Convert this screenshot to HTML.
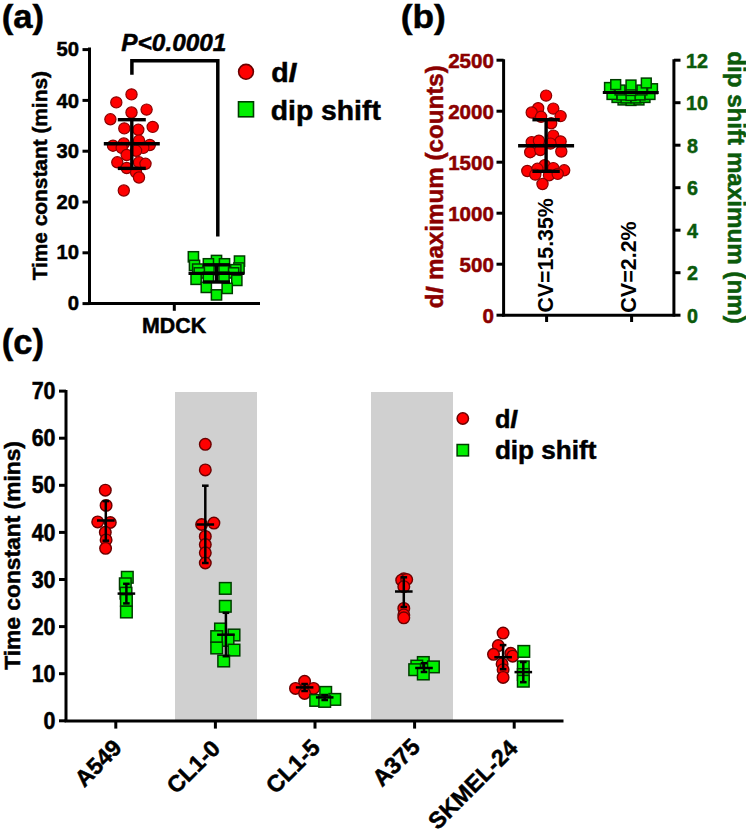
<!DOCTYPE html>
<html><head><meta charset="utf-8"><style>
html,body{margin:0;padding:0;background:#fff;overflow:hidden;}
svg{display:block;}
</style></head><body>
<svg width="746" height="831" viewBox="0 0 746 831">
<rect width="746" height="831" fill="#fff"/>
<line x1="89.50" y1="47.50" x2="89.50" y2="305.00" stroke="#000" stroke-width="3"/>
<line x1="82.50" y1="303.60" x2="89.50" y2="303.60" stroke="#000" stroke-width="3"/>
<line x1="82.50" y1="252.80" x2="89.50" y2="252.80" stroke="#000" stroke-width="3"/>
<line x1="82.50" y1="202.00" x2="89.50" y2="202.00" stroke="#000" stroke-width="3"/>
<line x1="82.50" y1="151.20" x2="89.50" y2="151.20" stroke="#000" stroke-width="3"/>
<line x1="82.50" y1="100.40" x2="89.50" y2="100.40" stroke="#000" stroke-width="3"/>
<line x1="82.50" y1="49.60" x2="89.50" y2="49.60" stroke="#000" stroke-width="3"/>
<line x1="88.00" y1="303.60" x2="260.00" y2="303.60" stroke="#000" stroke-width="3"/>
<line x1="174.30" y1="303.60" x2="174.30" y2="310.80" stroke="#000" stroke-width="3"/>
<circle cx="131.5" cy="94.4" r="5.6" fill="#ff0000" stroke="#8a0000" stroke-width="1.2"/>
<circle cx="116.3" cy="102.4" r="5.6" fill="#ff0000" stroke="#8a0000" stroke-width="1.2"/>
<circle cx="146.6" cy="109.6" r="5.6" fill="#ff0000" stroke="#8a0000" stroke-width="1.2"/>
<circle cx="131.5" cy="112.5" r="5.6" fill="#ff0000" stroke="#8a0000" stroke-width="1.2"/>
<circle cx="110.4" cy="119.3" r="5.6" fill="#ff0000" stroke="#8a0000" stroke-width="1.2"/>
<circle cx="152.7" cy="126.9" r="5.6" fill="#ff0000" stroke="#8a0000" stroke-width="1.2"/>
<circle cx="124.3" cy="128.4" r="5.6" fill="#ff0000" stroke="#8a0000" stroke-width="1.2"/>
<circle cx="138.3" cy="129.8" r="5.6" fill="#ff0000" stroke="#8a0000" stroke-width="1.2"/>
<circle cx="113" cy="145.7" r="5.6" fill="#ff0000" stroke="#8a0000" stroke-width="1.2"/>
<circle cx="123.8" cy="143.5" r="5.6" fill="#ff0000" stroke="#8a0000" stroke-width="1.2"/>
<circle cx="139" cy="140.6" r="5.6" fill="#ff0000" stroke="#8a0000" stroke-width="1.2"/>
<circle cx="149.8" cy="145" r="5.6" fill="#ff0000" stroke="#8a0000" stroke-width="1.2"/>
<circle cx="121.7" cy="147.9" r="5.6" fill="#ff0000" stroke="#8a0000" stroke-width="1.2"/>
<circle cx="143.3" cy="147.9" r="5.6" fill="#ff0000" stroke="#8a0000" stroke-width="1.2"/>
<circle cx="126.7" cy="155" r="5.6" fill="#ff0000" stroke="#8a0000" stroke-width="1.2"/>
<circle cx="136.1" cy="150.8" r="5.6" fill="#ff0000" stroke="#8a0000" stroke-width="1.2"/>
<circle cx="117.3" cy="162.3" r="5.6" fill="#ff0000" stroke="#8a0000" stroke-width="1.2"/>
<circle cx="139" cy="162.3" r="5.6" fill="#ff0000" stroke="#8a0000" stroke-width="1.2"/>
<circle cx="145.5" cy="163.8" r="5.6" fill="#ff0000" stroke="#8a0000" stroke-width="1.2"/>
<circle cx="126.7" cy="168" r="5.6" fill="#ff0000" stroke="#8a0000" stroke-width="1.2"/>
<circle cx="136.1" cy="172.4" r="5.6" fill="#ff0000" stroke="#8a0000" stroke-width="1.2"/>
<circle cx="139" cy="177.5" r="5.6" fill="#ff0000" stroke="#8a0000" stroke-width="1.2"/>
<circle cx="123.8" cy="190.5" r="5.6" fill="#ff0000" stroke="#8a0000" stroke-width="1.2"/>
<line x1="131.80" y1="119.70" x2="131.80" y2="168.40" stroke="#000" stroke-width="3.4"/>
<line x1="117.80" y1="119.70" x2="145.80" y2="119.70" stroke="#000" stroke-width="3.4"/>
<line x1="117.80" y1="168.40" x2="145.80" y2="168.40" stroke="#000" stroke-width="3.4"/>
<line x1="103.80" y1="143.70" x2="159.80" y2="143.70" stroke="#000" stroke-width="3.4"/>
<rect x="188.30" y="251.70" width="10.2" height="10.2" fill="#00f000" stroke="#003c00" stroke-width="1.5"/>
<rect x="234.40" y="256.00" width="10.2" height="10.2" fill="#00f000" stroke="#003c00" stroke-width="1.5"/>
<rect x="211.40" y="255.40" width="10.2" height="10.2" fill="#00f000" stroke="#003c00" stroke-width="1.5"/>
<rect x="203.30" y="258.70" width="10.2" height="10.2" fill="#00f000" stroke="#003c00" stroke-width="1.5"/>
<rect x="219.40" y="258.70" width="10.2" height="10.2" fill="#00f000" stroke="#003c00" stroke-width="1.5"/>
<rect x="189.40" y="260.30" width="10.2" height="10.2" fill="#00f000" stroke="#003c00" stroke-width="1.5"/>
<rect x="192.60" y="264.00" width="10.2" height="10.2" fill="#00f000" stroke="#003c00" stroke-width="1.5"/>
<rect x="233.90" y="262.90" width="10.2" height="10.2" fill="#00f000" stroke="#003c00" stroke-width="1.5"/>
<rect x="203.90" y="264.60" width="10.2" height="10.2" fill="#00f000" stroke="#003c00" stroke-width="1.5"/>
<rect x="218.90" y="265.10" width="10.2" height="10.2" fill="#00f000" stroke="#003c00" stroke-width="1.5"/>
<rect x="230.70" y="264.60" width="10.2" height="10.2" fill="#00f000" stroke="#003c00" stroke-width="1.5"/>
<rect x="194.20" y="267.80" width="10.2" height="10.2" fill="#00f000" stroke="#003c00" stroke-width="1.5"/>
<rect x="228.50" y="267.80" width="10.2" height="10.2" fill="#00f000" stroke="#003c00" stroke-width="1.5"/>
<rect x="191.00" y="274.20" width="10.2" height="10.2" fill="#00f000" stroke="#003c00" stroke-width="1.5"/>
<rect x="203.30" y="272.10" width="10.2" height="10.2" fill="#00f000" stroke="#003c00" stroke-width="1.5"/>
<rect x="218.90" y="272.10" width="10.2" height="10.2" fill="#00f000" stroke="#003c00" stroke-width="1.5"/>
<rect x="231.70" y="275.30" width="10.2" height="10.2" fill="#00f000" stroke="#003c00" stroke-width="1.5"/>
<rect x="201.20" y="282.30" width="10.2" height="10.2" fill="#00f000" stroke="#003c00" stroke-width="1.5"/>
<rect x="222.10" y="283.30" width="10.2" height="10.2" fill="#00f000" stroke="#003c00" stroke-width="1.5"/>
<rect x="211.40" y="289.80" width="10.2" height="10.2" fill="#00f000" stroke="#003c00" stroke-width="1.5"/>
<line x1="216.50" y1="264.80" x2="216.50" y2="282.00" stroke="#000" stroke-width="3.4"/>
<line x1="203.00" y1="264.80" x2="230.00" y2="264.80" stroke="#000" stroke-width="3.4"/>
<line x1="203.00" y1="282.00" x2="230.00" y2="282.00" stroke="#000" stroke-width="3.4"/>
<line x1="188.50" y1="273.40" x2="244.50" y2="273.40" stroke="#000" stroke-width="3.4"/>
<polyline points="131.9,74.7 131.9,60.7 217.8,60.7 217.8,236.5" fill="none" stroke="#000" stroke-width="3.5"/>
<circle cx="246" cy="71.8" r="7.4" fill="#ff0000" stroke="#6a0000" stroke-width="1.6"/>
<rect x="238.50" y="101.80" width="15" height="15" fill="#00f000" stroke="#003c00" stroke-width="1.6"/>
<line x1="503.60" y1="59.20" x2="503.60" y2="316.50" stroke="#000" stroke-width="3"/>
<line x1="496.50" y1="315.20" x2="503.60" y2="315.20" stroke="#000" stroke-width="3"/>
<line x1="496.50" y1="264.20" x2="503.60" y2="264.20" stroke="#000" stroke-width="3"/>
<line x1="496.50" y1="213.20" x2="503.60" y2="213.20" stroke="#000" stroke-width="3"/>
<line x1="496.50" y1="162.20" x2="503.60" y2="162.20" stroke="#000" stroke-width="3"/>
<line x1="496.50" y1="111.20" x2="503.60" y2="111.20" stroke="#000" stroke-width="3"/>
<line x1="496.50" y1="60.20" x2="503.60" y2="60.20" stroke="#000" stroke-width="3"/>
<line x1="502.10" y1="315.20" x2="674.50" y2="315.20" stroke="#000" stroke-width="3"/>
<line x1="546.60" y1="315.20" x2="546.60" y2="322.00" stroke="#000" stroke-width="3"/>
<line x1="631.60" y1="315.20" x2="631.60" y2="322.00" stroke="#000" stroke-width="3"/>
<line x1="673.90" y1="59.20" x2="673.90" y2="316.50" stroke="#000" stroke-width="3"/>
<line x1="673.90" y1="315.20" x2="680.50" y2="315.20" stroke="#000" stroke-width="3"/>
<line x1="673.90" y1="272.70" x2="680.50" y2="272.70" stroke="#000" stroke-width="3"/>
<line x1="673.90" y1="230.20" x2="680.50" y2="230.20" stroke="#000" stroke-width="3"/>
<line x1="673.90" y1="187.70" x2="680.50" y2="187.70" stroke="#000" stroke-width="3"/>
<line x1="673.90" y1="145.20" x2="680.50" y2="145.20" stroke="#000" stroke-width="3"/>
<line x1="673.90" y1="102.70" x2="680.50" y2="102.70" stroke="#000" stroke-width="3"/>
<line x1="673.90" y1="60.20" x2="680.50" y2="60.20" stroke="#000" stroke-width="3"/>
<circle cx="546.1" cy="95.6" r="5.6" fill="#ff0000" stroke="#8a0000" stroke-width="1.2"/>
<circle cx="538.2" cy="108.2" r="5.6" fill="#ff0000" stroke="#8a0000" stroke-width="1.2"/>
<circle cx="553.3" cy="108.6" r="5.6" fill="#ff0000" stroke="#8a0000" stroke-width="1.2"/>
<circle cx="531.7" cy="112.5" r="5.6" fill="#ff0000" stroke="#8a0000" stroke-width="1.2"/>
<circle cx="541.1" cy="116.8" r="5.6" fill="#ff0000" stroke="#8a0000" stroke-width="1.2"/>
<circle cx="560.6" cy="116.1" r="5.6" fill="#ff0000" stroke="#8a0000" stroke-width="1.2"/>
<circle cx="551.2" cy="123.3" r="5.6" fill="#ff0000" stroke="#8a0000" stroke-width="1.2"/>
<circle cx="553.3" cy="135.6" r="5.6" fill="#ff0000" stroke="#8a0000" stroke-width="1.2"/>
<circle cx="531.7" cy="142.1" r="5.6" fill="#ff0000" stroke="#8a0000" stroke-width="1.2"/>
<circle cx="538.9" cy="140.7" r="5.6" fill="#ff0000" stroke="#8a0000" stroke-width="1.2"/>
<circle cx="560.6" cy="141.4" r="5.6" fill="#ff0000" stroke="#8a0000" stroke-width="1.2"/>
<circle cx="550.5" cy="143.6" r="5.6" fill="#ff0000" stroke="#8a0000" stroke-width="1.2"/>
<circle cx="530.2" cy="152.2" r="5.6" fill="#ff0000" stroke="#8a0000" stroke-width="1.2"/>
<circle cx="540.3" cy="150" r="5.6" fill="#ff0000" stroke="#8a0000" stroke-width="1.2"/>
<circle cx="561.3" cy="151.5" r="5.6" fill="#ff0000" stroke="#8a0000" stroke-width="1.2"/>
<circle cx="544.7" cy="165.2" r="5.6" fill="#ff0000" stroke="#8a0000" stroke-width="1.2"/>
<circle cx="527.3" cy="171" r="5.6" fill="#ff0000" stroke="#8a0000" stroke-width="1.2"/>
<circle cx="537.4" cy="168.8" r="5.6" fill="#ff0000" stroke="#8a0000" stroke-width="1.2"/>
<circle cx="553.3" cy="168.1" r="5.6" fill="#ff0000" stroke="#8a0000" stroke-width="1.2"/>
<circle cx="564.2" cy="170.3" r="5.6" fill="#ff0000" stroke="#8a0000" stroke-width="1.2"/>
<circle cx="535.3" cy="174.6" r="5.6" fill="#ff0000" stroke="#8a0000" stroke-width="1.2"/>
<circle cx="549" cy="175.3" r="5.6" fill="#ff0000" stroke="#8a0000" stroke-width="1.2"/>
<circle cx="557.7" cy="173.9" r="5.6" fill="#ff0000" stroke="#8a0000" stroke-width="1.2"/>
<circle cx="542.5" cy="184" r="5.6" fill="#ff0000" stroke="#8a0000" stroke-width="1.2"/>
<line x1="546.10" y1="119.70" x2="546.10" y2="171.30" stroke="#000" stroke-width="3.4"/>
<line x1="532.40" y1="119.70" x2="559.80" y2="119.70" stroke="#000" stroke-width="3.4"/>
<line x1="532.40" y1="171.30" x2="559.80" y2="171.30" stroke="#000" stroke-width="3.4"/>
<line x1="518.10" y1="145.70" x2="574.10" y2="145.70" stroke="#000" stroke-width="3.4"/>
<rect x="618.10" y="95.10" width="9.8" height="9.8" fill="#00f000" stroke="#003c00" stroke-width="1.5"/>
<rect x="626.10" y="95.60" width="9.8" height="9.8" fill="#00f000" stroke="#003c00" stroke-width="1.5"/>
<rect x="634.10" y="95.10" width="9.8" height="9.8" fill="#00f000" stroke="#003c00" stroke-width="1.5"/>
<rect x="612.10" y="92.60" width="9.8" height="9.8" fill="#00f000" stroke="#003c00" stroke-width="1.5"/>
<rect x="621.10" y="93.10" width="9.8" height="9.8" fill="#00f000" stroke="#003c00" stroke-width="1.5"/>
<rect x="631.10" y="93.10" width="9.8" height="9.8" fill="#00f000" stroke="#003c00" stroke-width="1.5"/>
<rect x="640.10" y="92.60" width="9.8" height="9.8" fill="#00f000" stroke="#003c00" stroke-width="1.5"/>
<rect x="607.10" y="89.60" width="9.8" height="9.8" fill="#00f000" stroke="#003c00" stroke-width="1.5"/>
<rect x="617.10" y="90.10" width="9.8" height="9.8" fill="#00f000" stroke="#003c00" stroke-width="1.5"/>
<rect x="626.10" y="90.60" width="9.8" height="9.8" fill="#00f000" stroke="#003c00" stroke-width="1.5"/>
<rect x="635.10" y="90.10" width="9.8" height="9.8" fill="#00f000" stroke="#003c00" stroke-width="1.5"/>
<rect x="645.10" y="89.60" width="9.8" height="9.8" fill="#00f000" stroke="#003c00" stroke-width="1.5"/>
<rect x="615.10" y="85.10" width="9.8" height="9.8" fill="#00f000" stroke="#003c00" stroke-width="1.5"/>
<rect x="626.10" y="85.60" width="9.8" height="9.8" fill="#00f000" stroke="#003c00" stroke-width="1.5"/>
<rect x="637.10" y="85.10" width="9.8" height="9.8" fill="#00f000" stroke="#003c00" stroke-width="1.5"/>
<rect x="604.60" y="82.60" width="9.8" height="9.8" fill="#00f000" stroke="#003c00" stroke-width="1.5"/>
<rect x="647.60" y="83.80" width="9.8" height="9.8" fill="#00f000" stroke="#003c00" stroke-width="1.5"/>
<rect x="610.80" y="79.70" width="9.8" height="9.8" fill="#00f000" stroke="#003c00" stroke-width="1.5"/>
<rect x="626.10" y="80.10" width="9.8" height="9.8" fill="#00f000" stroke="#003c00" stroke-width="1.5"/>
<rect x="641.40" y="78.10" width="9.8" height="9.8" fill="#00f000" stroke="#003c00" stroke-width="1.5"/>
<line x1="602.80" y1="92.50" x2="658.70" y2="92.50" stroke="#000" stroke-width="3"/>
<rect x="175" y="392" width="82" height="328" fill="#d0d0d0"/>
<rect x="371" y="392" width="82" height="328" fill="#d0d0d0"/>
<line x1="66.00" y1="390.00" x2="66.00" y2="722.00" stroke="#000" stroke-width="3"/>
<line x1="59.00" y1="720.80" x2="66.00" y2="720.80" stroke="#000" stroke-width="3"/>
<line x1="59.00" y1="673.70" x2="66.00" y2="673.70" stroke="#000" stroke-width="3"/>
<line x1="59.00" y1="626.60" x2="66.00" y2="626.60" stroke="#000" stroke-width="3"/>
<line x1="59.00" y1="579.50" x2="66.00" y2="579.50" stroke="#000" stroke-width="3"/>
<line x1="59.00" y1="532.40" x2="66.00" y2="532.40" stroke="#000" stroke-width="3"/>
<line x1="59.00" y1="485.30" x2="66.00" y2="485.30" stroke="#000" stroke-width="3"/>
<line x1="59.00" y1="438.20" x2="66.00" y2="438.20" stroke="#000" stroke-width="3"/>
<line x1="59.00" y1="391.10" x2="66.00" y2="391.10" stroke="#000" stroke-width="3"/>
<line x1="64.50" y1="721.00" x2="563.50" y2="721.00" stroke="#000" stroke-width="3"/>
<line x1="115.80" y1="721.00" x2="115.80" y2="728.60" stroke="#000" stroke-width="3"/>
<line x1="215.40" y1="721.00" x2="215.40" y2="728.60" stroke="#000" stroke-width="3"/>
<line x1="315.00" y1="721.00" x2="315.00" y2="728.60" stroke="#000" stroke-width="3"/>
<line x1="414.60" y1="721.00" x2="414.60" y2="728.60" stroke="#000" stroke-width="3"/>
<line x1="514.20" y1="721.00" x2="514.20" y2="728.60" stroke="#000" stroke-width="3"/>
<circle cx="105.3" cy="490.2" r="5.8" fill="#ff0000" stroke="#6a0000" stroke-width="1.4"/>
<circle cx="106.1" cy="505.4" r="5.8" fill="#ff0000" stroke="#6a0000" stroke-width="1.4"/>
<circle cx="97.7" cy="521.9" r="5.8" fill="#ff0000" stroke="#6a0000" stroke-width="1.4"/>
<circle cx="110.3" cy="522.5" r="5.8" fill="#ff0000" stroke="#6a0000" stroke-width="1.4"/>
<circle cx="105.3" cy="532.3" r="5.8" fill="#ff0000" stroke="#6a0000" stroke-width="1.4"/>
<circle cx="106.1" cy="539.9" r="5.8" fill="#ff0000" stroke="#6a0000" stroke-width="1.4"/>
<circle cx="105.6" cy="548.3" r="5.8" fill="#ff0000" stroke="#6a0000" stroke-width="1.4"/>
<circle cx="205.3" cy="444.3" r="5.8" fill="#ff0000" stroke="#6a0000" stroke-width="1.4"/>
<circle cx="205.3" cy="469.9" r="5.8" fill="#ff0000" stroke="#6a0000" stroke-width="1.4"/>
<circle cx="201.6" cy="524.5" r="5.8" fill="#ff0000" stroke="#6a0000" stroke-width="1.4"/>
<circle cx="213.9" cy="523.1" r="5.8" fill="#ff0000" stroke="#6a0000" stroke-width="1.4"/>
<circle cx="205.3" cy="536.4" r="5.8" fill="#ff0000" stroke="#6a0000" stroke-width="1.4"/>
<circle cx="205.3" cy="544.6" r="5.8" fill="#ff0000" stroke="#6a0000" stroke-width="1.4"/>
<circle cx="205.3" cy="552.8" r="5.8" fill="#ff0000" stroke="#6a0000" stroke-width="1.4"/>
<circle cx="205.3" cy="563" r="5.8" fill="#ff0000" stroke="#6a0000" stroke-width="1.4"/>
<circle cx="304.6" cy="681.3" r="5.8" fill="#ff0000" stroke="#6a0000" stroke-width="1.4"/>
<circle cx="295.5" cy="688.4" r="5.8" fill="#ff0000" stroke="#6a0000" stroke-width="1.4"/>
<circle cx="313.6" cy="688.4" r="5.8" fill="#ff0000" stroke="#6a0000" stroke-width="1.4"/>
<circle cx="304.6" cy="693.4" r="5.8" fill="#ff0000" stroke="#6a0000" stroke-width="1.4"/>
<circle cx="403.8" cy="578.8" r="5.8" fill="#ff0000" stroke="#6a0000" stroke-width="1.4"/>
<circle cx="401.7" cy="580.2" r="5.8" fill="#ff0000" stroke="#6a0000" stroke-width="1.4"/>
<circle cx="406.7" cy="579.5" r="5.8" fill="#ff0000" stroke="#6a0000" stroke-width="1.4"/>
<circle cx="403.8" cy="586.7" r="5.8" fill="#ff0000" stroke="#6a0000" stroke-width="1.4"/>
<circle cx="403.8" cy="608.4" r="5.8" fill="#ff0000" stroke="#6a0000" stroke-width="1.4"/>
<circle cx="403.8" cy="614.9" r="5.8" fill="#ff0000" stroke="#6a0000" stroke-width="1.4"/>
<circle cx="403.8" cy="617.8" r="5.8" fill="#ff0000" stroke="#6a0000" stroke-width="1.4"/>
<circle cx="503.1" cy="633.1" r="5.8" fill="#ff0000" stroke="#6a0000" stroke-width="1.4"/>
<circle cx="498.3" cy="645.6" r="5.8" fill="#ff0000" stroke="#6a0000" stroke-width="1.4"/>
<circle cx="493.5" cy="654.3" r="5.8" fill="#ff0000" stroke="#6a0000" stroke-width="1.4"/>
<circle cx="510.8" cy="653.3" r="5.8" fill="#ff0000" stroke="#6a0000" stroke-width="1.4"/>
<circle cx="512.7" cy="656.2" r="5.8" fill="#ff0000" stroke="#6a0000" stroke-width="1.4"/>
<circle cx="502.1" cy="663.9" r="5.8" fill="#ff0000" stroke="#6a0000" stroke-width="1.4"/>
<circle cx="503.1" cy="669.7" r="5.8" fill="#ff0000" stroke="#6a0000" stroke-width="1.4"/>
<circle cx="503.1" cy="677.4" r="5.8" fill="#ff0000" stroke="#6a0000" stroke-width="1.4"/>
<rect x="121.50" y="571.50" width="11.6" height="11.6" fill="#00f000" stroke="#003c00" stroke-width="1.5"/>
<rect x="119.50" y="578.00" width="11.6" height="11.6" fill="#00f000" stroke="#003c00" stroke-width="1.5"/>
<rect x="120.20" y="587.40" width="11.6" height="11.6" fill="#00f000" stroke="#003c00" stroke-width="1.5"/>
<rect x="120.60" y="594.70" width="11.6" height="11.6" fill="#00f000" stroke="#003c00" stroke-width="1.5"/>
<rect x="120.60" y="606.20" width="11.6" height="11.6" fill="#00f000" stroke="#003c00" stroke-width="1.5"/>
<rect x="219.50" y="582.60" width="11.6" height="11.6" fill="#00f000" stroke="#003c00" stroke-width="1.5"/>
<rect x="219.50" y="600.50" width="11.6" height="11.6" fill="#00f000" stroke="#003c00" stroke-width="1.5"/>
<rect x="214.70" y="623.20" width="11.6" height="11.6" fill="#00f000" stroke="#003c00" stroke-width="1.5"/>
<rect x="210.90" y="630.80" width="11.6" height="11.6" fill="#00f000" stroke="#003c00" stroke-width="1.5"/>
<rect x="228.20" y="629.20" width="11.6" height="11.6" fill="#00f000" stroke="#003c00" stroke-width="1.5"/>
<rect x="222.20" y="634.60" width="11.6" height="11.6" fill="#00f000" stroke="#003c00" stroke-width="1.5"/>
<rect x="210.90" y="642.20" width="11.6" height="11.6" fill="#00f000" stroke="#003c00" stroke-width="1.5"/>
<rect x="228.20" y="644.30" width="11.6" height="11.6" fill="#00f000" stroke="#003c00" stroke-width="1.5"/>
<rect x="217.90" y="655.20" width="11.6" height="11.6" fill="#00f000" stroke="#003c00" stroke-width="1.5"/>
<rect x="319.90" y="686.60" width="11.6" height="11.6" fill="#00f000" stroke="#003c00" stroke-width="1.5"/>
<rect x="309.90" y="694.60" width="11.6" height="11.6" fill="#00f000" stroke="#003c00" stroke-width="1.5"/>
<rect x="329.00" y="693.60" width="11.6" height="11.6" fill="#00f000" stroke="#003c00" stroke-width="1.5"/>
<rect x="318.90" y="695.60" width="11.6" height="11.6" fill="#00f000" stroke="#003c00" stroke-width="1.5"/>
<rect x="417.50" y="656.70" width="11.6" height="11.6" fill="#00f000" stroke="#003c00" stroke-width="1.5"/>
<rect x="411.00" y="660.30" width="11.6" height="11.6" fill="#00f000" stroke="#003c00" stroke-width="1.5"/>
<rect x="427.60" y="661.10" width="11.6" height="11.6" fill="#00f000" stroke="#003c00" stroke-width="1.5"/>
<rect x="408.90" y="663.90" width="11.6" height="11.6" fill="#00f000" stroke="#003c00" stroke-width="1.5"/>
<rect x="417.50" y="668.20" width="11.6" height="11.6" fill="#00f000" stroke="#003c00" stroke-width="1.5"/>
<rect x="518.00" y="645.60" width="11.6" height="11.6" fill="#00f000" stroke="#003c00" stroke-width="1.5"/>
<rect x="517.50" y="661.00" width="11.6" height="11.6" fill="#00f000" stroke="#003c00" stroke-width="1.5"/>
<rect x="517.50" y="668.70" width="11.6" height="11.6" fill="#00f000" stroke="#003c00" stroke-width="1.5"/>
<rect x="517.50" y="675.40" width="11.6" height="11.6" fill="#00f000" stroke="#003c00" stroke-width="1.5"/>
<line x1="105.80" y1="501.10" x2="105.80" y2="540.70" stroke="#000" stroke-width="2.5"/>
<line x1="102.50" y1="501.10" x2="109.10" y2="501.10" stroke="#000" stroke-width="2.5"/>
<line x1="102.50" y1="540.70" x2="109.10" y2="540.70" stroke="#000" stroke-width="2.5"/>
<line x1="97.00" y1="520.50" x2="114.60" y2="520.50" stroke="#000" stroke-width="2.5"/>
<line x1="126.40" y1="583.80" x2="126.40" y2="603.40" stroke="#000" stroke-width="2.5"/>
<line x1="123.10" y1="583.80" x2="129.70" y2="583.80" stroke="#000" stroke-width="2.5"/>
<line x1="123.10" y1="603.40" x2="129.70" y2="603.40" stroke="#000" stroke-width="2.5"/>
<line x1="117.60" y1="593.60" x2="135.20" y2="593.60" stroke="#000" stroke-width="2.5"/>
<line x1="205.30" y1="485.70" x2="205.30" y2="563.00" stroke="#000" stroke-width="2.5"/>
<line x1="202.00" y1="485.70" x2="208.60" y2="485.70" stroke="#000" stroke-width="2.5"/>
<line x1="202.00" y1="563.00" x2="208.60" y2="563.00" stroke="#000" stroke-width="2.5"/>
<line x1="196.50" y1="524.50" x2="214.10" y2="524.50" stroke="#000" stroke-width="2.5"/>
<line x1="225.90" y1="612.80" x2="225.90" y2="656.20" stroke="#000" stroke-width="2.5"/>
<line x1="222.60" y1="612.80" x2="229.20" y2="612.80" stroke="#000" stroke-width="2.5"/>
<line x1="222.60" y1="656.20" x2="229.20" y2="656.20" stroke="#000" stroke-width="2.5"/>
<line x1="217.10" y1="634.70" x2="234.70" y2="634.70" stroke="#000" stroke-width="2.5"/>
<line x1="304.60" y1="684.00" x2="304.60" y2="691.00" stroke="#000" stroke-width="2.5"/>
<line x1="301.30" y1="684.00" x2="307.90" y2="684.00" stroke="#000" stroke-width="2.5"/>
<line x1="301.30" y1="691.00" x2="307.90" y2="691.00" stroke="#000" stroke-width="2.5"/>
<line x1="295.80" y1="687.40" x2="313.40" y2="687.40" stroke="#000" stroke-width="2.5"/>
<line x1="324.70" y1="695.00" x2="324.70" y2="700.00" stroke="#000" stroke-width="2.5"/>
<line x1="321.40" y1="695.00" x2="328.00" y2="695.00" stroke="#000" stroke-width="2.5"/>
<line x1="321.40" y1="700.00" x2="328.00" y2="700.00" stroke="#000" stroke-width="2.5"/>
<line x1="315.90" y1="697.40" x2="333.50" y2="697.40" stroke="#000" stroke-width="2.5"/>
<line x1="403.80" y1="577.30" x2="403.80" y2="607.00" stroke="#000" stroke-width="2.5"/>
<line x1="400.50" y1="577.30" x2="407.10" y2="577.30" stroke="#000" stroke-width="2.5"/>
<line x1="400.50" y1="607.00" x2="407.10" y2="607.00" stroke="#000" stroke-width="2.5"/>
<line x1="395.00" y1="591.50" x2="412.60" y2="591.50" stroke="#000" stroke-width="2.5"/>
<line x1="424.00" y1="663.20" x2="424.00" y2="672.00" stroke="#000" stroke-width="2.5"/>
<line x1="420.70" y1="663.20" x2="427.30" y2="663.20" stroke="#000" stroke-width="2.5"/>
<line x1="420.70" y1="672.00" x2="427.30" y2="672.00" stroke="#000" stroke-width="2.5"/>
<line x1="415.20" y1="668.00" x2="432.80" y2="668.00" stroke="#000" stroke-width="2.5"/>
<line x1="503.10" y1="645.10" x2="503.10" y2="669.20" stroke="#000" stroke-width="2.5"/>
<line x1="499.80" y1="645.10" x2="506.40" y2="645.10" stroke="#000" stroke-width="2.5"/>
<line x1="499.80" y1="669.20" x2="506.40" y2="669.20" stroke="#000" stroke-width="2.5"/>
<line x1="494.30" y1="657.20" x2="511.90" y2="657.20" stroke="#000" stroke-width="2.5"/>
<line x1="523.30" y1="662.00" x2="523.30" y2="682.20" stroke="#000" stroke-width="2.5"/>
<line x1="520.00" y1="662.00" x2="526.60" y2="662.00" stroke="#000" stroke-width="2.5"/>
<line x1="520.00" y1="682.20" x2="526.60" y2="682.20" stroke="#000" stroke-width="2.5"/>
<line x1="514.50" y1="672.10" x2="532.10" y2="672.10" stroke="#000" stroke-width="2.5"/>
<circle cx="462.8" cy="418.5" r="5.7" fill="#ff0000" stroke="#6a0000" stroke-width="1.5"/>
<rect x="457.10" y="444.50" width="11.4" height="11.4" fill="#00f000" stroke="#003c00" stroke-width="1.5"/>
<g transform="translate(3.700,2.700) scale(0.9634,0.9371) translate(-4.000,-2.000)"><text transform="translate(2,29)" font-family="Liberation Sans" font-size="36" text-anchor="start" fill="#000" font-weight="bold" stroke="#000" stroke-width="0.5">(a)</text></g>
<g transform="translate(78.600,303.400) scale(1.0143,1.0143) translate(-79.000,-304.000)"><text transform="translate(79.5,310.6)" font-family="Liberation Sans" font-size="20" text-anchor="end" fill="#000" font-weight="bold" stroke="#000" stroke-width="0.5">0</text></g>
<g transform="translate(78.600,252.600) scale(1.0143,1.0143) translate(-79.000,-253.000)"><text transform="translate(79.5,259.8)" font-family="Liberation Sans" font-size="20" text-anchor="end" fill="#000" font-weight="bold" stroke="#000" stroke-width="0.5">10</text></g>
<g transform="translate(78.600,201.800) scale(1.0143,1.0143) translate(-79.000,-202.000)"><text transform="translate(79.5,209.00000000000003)" font-family="Liberation Sans" font-size="20" text-anchor="end" fill="#000" font-weight="bold" stroke="#000" stroke-width="0.5">20</text></g>
<g transform="translate(78.600,151.000) scale(1.0143,1.0143) translate(-79.000,-151.000)"><text transform="translate(79.5,158.20000000000002)" font-family="Liberation Sans" font-size="20" text-anchor="end" fill="#000" font-weight="bold" stroke="#000" stroke-width="0.5">30</text></g>
<g transform="translate(78.600,100.200) scale(1.0143,1.0143) translate(-79.000,-100.000)"><text transform="translate(79.5,107.40000000000003)" font-family="Liberation Sans" font-size="20" text-anchor="end" fill="#000" font-weight="bold" stroke="#000" stroke-width="0.5">40</text></g>
<g transform="translate(78.600,49.400) scale(1.0143,1.0143) translate(-79.000,-50.000)"><text transform="translate(79.5,56.60000000000002)" font-family="Liberation Sans" font-size="20" text-anchor="end" fill="#000" font-weight="bold" stroke="#000" stroke-width="0.5">50</text></g>
<g transform="translate(143.300,318.100) scale(1.0417,1.0500) translate(-145.000,-319.000)"><text transform="translate(174.5,333)" font-family="Liberation Sans" font-size="20.5" text-anchor="middle" fill="#000" font-weight="bold" stroke="#000" stroke-width="0.5">MDCK</text></g>
<g transform="translate(31.900,71.900) scale(0.9933,0.9933) translate(-32.000,-72.000)"><text transform="translate(47,176.5) rotate(-90)" font-family="Liberation Sans" font-size="21" text-anchor="middle" fill="#000" font-weight="bold" stroke="#000" stroke-width="0.5">Time constant (mins)</text></g>
<g transform="translate(121.300,33.700) scale(1.0167,1.0059) translate(-121.000,-34.000)"><text transform="translate(121,50.8)" font-family="Liberation Sans" font-size="24" text-anchor="start" fill="#000" font-weight="bold" stroke="#000" stroke-width="0.5" font-style="italic">P&lt;0.0001</text></g>
<g transform="translate(272.200,62.000) scale(1.0200,0.9900) translate(-272.000,-62.000)"><text transform="translate(271,81.8)" font-family="Liberation Sans" font-size="28" text-anchor="start" fill="#000" font-weight="bold" stroke="#000" stroke-width="0.5">d<tspan font-style="italic">I</tspan></text></g>
<g transform="translate(271.800,99.300) scale(1.0111,1.0111) translate(-272.000,-99.000)"><text transform="translate(271,119.4)" font-family="Liberation Sans" font-size="28" text-anchor="start" fill="#000" font-weight="bold" stroke="#000" stroke-width="0.5">dip shift</text></g>
<g transform="translate(402.700,2.700) scale(0.9814,0.9486) translate(-404.000,-2.000)"><text transform="translate(402,29)" font-family="Liberation Sans" font-size="36" text-anchor="start" fill="#000" font-weight="bold" stroke="#000" stroke-width="0.5">(b)</text></g>
<g transform="translate(493.400,315.600) scale(1.0286,1.0286) translate(-493.000,-315.000)"><text transform="translate(493.5,322.2)" font-family="Liberation Sans" font-size="20" text-anchor="end" fill="#8b0000" font-weight="bold" stroke="#8b0000" stroke-width="0.5">0</text></g>
<g transform="translate(493.400,264.600) scale(1.0286,1.0286) translate(-493.000,-264.000)"><text transform="translate(493.5,271.2)" font-family="Liberation Sans" font-size="20" text-anchor="end" fill="#8b0000" font-weight="bold" stroke="#8b0000" stroke-width="0.5">500</text></g>
<g transform="translate(493.400,213.600) scale(1.0286,1.0286) translate(-493.000,-213.000)"><text transform="translate(493.5,220.2)" font-family="Liberation Sans" font-size="20" text-anchor="end" fill="#8b0000" font-weight="bold" stroke="#8b0000" stroke-width="0.5">1000</text></g>
<g transform="translate(493.400,162.600) scale(1.0286,1.0286) translate(-493.000,-162.000)"><text transform="translate(493.5,169.2)" font-family="Liberation Sans" font-size="20" text-anchor="end" fill="#8b0000" font-weight="bold" stroke="#8b0000" stroke-width="0.5">1500</text></g>
<g transform="translate(493.400,111.600) scale(1.0286,1.0286) translate(-493.000,-111.000)"><text transform="translate(493.5,118.19999999999999)" font-family="Liberation Sans" font-size="20" text-anchor="end" fill="#8b0000" font-weight="bold" stroke="#8b0000" stroke-width="0.5">2000</text></g>
<g transform="translate(493.400,60.600) scale(1.0286,1.0286) translate(-493.000,-60.000)"><text transform="translate(493.5,67.20000000000002)" font-family="Liberation Sans" font-size="20" text-anchor="end" fill="#8b0000" font-weight="bold" stroke="#8b0000" stroke-width="0.5">2500</text></g>
<g transform="translate(687.000,315.600) scale(0.9857,0.9857) translate(-687.000,-315.000)"><text transform="translate(687,322.2)" font-family="Liberation Sans" font-size="20" text-anchor="start" fill="#0b5a0b" font-weight="bold" stroke="#0b5a0b" stroke-width="0.5">0</text></g>
<g transform="translate(687.000,273.100) scale(0.9857,0.9857) translate(-687.000,-273.000)"><text transform="translate(687,279.7)" font-family="Liberation Sans" font-size="20" text-anchor="start" fill="#0b5a0b" font-weight="bold" stroke="#0b5a0b" stroke-width="0.5">2</text></g>
<g transform="translate(687.000,230.600) scale(0.9857,0.9857) translate(-687.000,-230.000)"><text transform="translate(687,237.2)" font-family="Liberation Sans" font-size="20" text-anchor="start" fill="#0b5a0b" font-weight="bold" stroke="#0b5a0b" stroke-width="0.5">4</text></g>
<g transform="translate(687.000,188.100) scale(0.9857,0.9857) translate(-687.000,-188.000)"><text transform="translate(687,194.7)" font-family="Liberation Sans" font-size="20" text-anchor="start" fill="#0b5a0b" font-weight="bold" stroke="#0b5a0b" stroke-width="0.5">6</text></g>
<g transform="translate(687.000,145.600) scale(0.9857,0.9857) translate(-687.000,-145.000)"><text transform="translate(687,152.2)" font-family="Liberation Sans" font-size="20" text-anchor="start" fill="#0b5a0b" font-weight="bold" stroke="#0b5a0b" stroke-width="0.5">8</text></g>
<g transform="translate(687.000,103.100) scale(0.9857,0.9857) translate(-688.000,-103.000)"><text transform="translate(687,109.69999999999999)" font-family="Liberation Sans" font-size="20" text-anchor="start" fill="#0b5a0b" font-weight="bold" stroke="#0b5a0b" stroke-width="0.5">10</text></g>
<g transform="translate(687.000,60.600) scale(0.9857,0.9857) translate(-688.000,-60.000)"><text transform="translate(687,67.19999999999999)" font-family="Liberation Sans" font-size="20" text-anchor="start" fill="#0b5a0b" font-weight="bold" stroke="#0b5a0b" stroke-width="0.5">12</text></g>
<g transform="translate(425.000,66.000) scale(1.0067,1.0067) translate(-427.000,-67.000)"><text transform="translate(445,187) rotate(-90)" font-family="Liberation Sans" font-size="24" text-anchor="middle" fill="#8b0000" font-weight="bold" stroke="#8b0000" stroke-width="0.5">d<tspan font-style="italic">I</tspan> maximum (counts)</text></g>
<g transform="translate(723.300,51.500) scale(1.0071,1.0071) translate(-723.000,-52.000)"><text transform="translate(728,187) rotate(90)" font-family="Liberation Sans" font-size="24" text-anchor="middle" fill="#0b5a0b" font-weight="bold" stroke="#0b5a0b" stroke-width="0.5">dip shift maximum (nm)</text></g>
<g transform="translate(538.800,199.000) scale(1.0162,1.0162) translate(-541.000,-200.000)"><text transform="translate(555,311.8) rotate(-90)" font-family="Liberation Sans" font-size="21" text-anchor="start" fill="#000" font-weight="bold">CV=15.35%</text></g>
<g transform="translate(621.200,222.300) scale(1.0230,1.0230) translate(-624.000,-223.000)"><text transform="translate(638.3,311.3) rotate(-90)" font-family="Liberation Sans" font-size="21" text-anchor="start" fill="#000" font-weight="bold">CV=2.2%</text></g>
<g transform="translate(3.700,328.700) scale(0.9634,0.9486) translate(-4.000,-331.000)"><text transform="translate(2,358)" font-family="Liberation Sans" font-size="36" text-anchor="start" fill="#000" font-weight="bold" stroke="#000" stroke-width="0.5">(c)</text></g>
<g transform="translate(54.500,720.800) scale(1.0200,1.1643) translate(-54.000,-721.000)"><text transform="translate(55,728.4)" font-family="Liberation Sans" font-size="21" text-anchor="end" fill="#000" font-weight="bold" stroke="#000" stroke-width="0.5">0</text></g>
<g transform="translate(54.500,673.700) scale(1.0200,1.1643) translate(-54.000,-674.000)"><text transform="translate(55,681.3)" font-family="Liberation Sans" font-size="21" text-anchor="end" fill="#000" font-weight="bold" stroke="#000" stroke-width="0.5">10</text></g>
<g transform="translate(54.500,626.600) scale(1.0200,1.1643) translate(-54.000,-627.000)"><text transform="translate(55,634.1999999999999)" font-family="Liberation Sans" font-size="21" text-anchor="end" fill="#000" font-weight="bold" stroke="#000" stroke-width="0.5">20</text></g>
<g transform="translate(54.500,579.500) scale(1.0200,1.1643) translate(-54.000,-580.000)"><text transform="translate(55,587.1)" font-family="Liberation Sans" font-size="21" text-anchor="end" fill="#000" font-weight="bold" stroke="#000" stroke-width="0.5">30</text></g>
<g transform="translate(54.500,532.400) scale(1.0200,1.1643) translate(-54.000,-533.000)"><text transform="translate(55,540.0)" font-family="Liberation Sans" font-size="21" text-anchor="end" fill="#000" font-weight="bold" stroke="#000" stroke-width="0.5">40</text></g>
<g transform="translate(54.500,485.300) scale(1.0200,1.1643) translate(-54.000,-486.000)"><text transform="translate(55,492.9)" font-family="Liberation Sans" font-size="21" text-anchor="end" fill="#000" font-weight="bold" stroke="#000" stroke-width="0.5">50</text></g>
<g transform="translate(54.500,438.200) scale(1.0200,1.1643) translate(-54.000,-439.000)"><text transform="translate(55,445.79999999999995)" font-family="Liberation Sans" font-size="21" text-anchor="end" fill="#000" font-weight="bold" stroke="#000" stroke-width="0.5">60</text></g>
<g transform="translate(54.500,391.100) scale(1.0200,1.1643) translate(-54.000,-392.000)"><text transform="translate(55,398.7)" font-family="Liberation Sans" font-size="21" text-anchor="end" fill="#000" font-weight="bold" stroke="#000" stroke-width="0.5">70</text></g>
<g transform="translate(77.200,740.200) scale(1.0015,1.0015) translate(-78.000,-739.000)"><text transform="translate(123.8,748) rotate(-45)" font-family="Liberation Sans" font-size="23" text-anchor="end" fill="#000" font-weight="bold" stroke="#000" stroke-width="0.5">A549</text></g>
<g transform="translate(168.000,740.800) scale(1.0020,1.0020) translate(-170.000,-739.000)"><text transform="translate(223.39999999999998,748) rotate(-45)" font-family="Liberation Sans" font-size="23" text-anchor="end" fill="#000" font-weight="bold" stroke="#000" stroke-width="0.5">CL1-0</text></g>
<g transform="translate(267.500,738.900) scale(1.0155,1.0155) translate(-270.000,-738.000)"><text transform="translate(323.0,748) rotate(-45)" font-family="Liberation Sans" font-size="23" text-anchor="end" fill="#000" font-weight="bold" stroke="#000" stroke-width="0.5">CL1-5</text></g>
<g transform="translate(375.000,738.000) scale(1.0199,1.0199) translate(-377.000,-738.000)"><text transform="translate(422.59999999999997,748) rotate(-45)" font-family="Liberation Sans" font-size="23" text-anchor="end" fill="#000" font-weight="bold" stroke="#000" stroke-width="0.5">A375</text></g>
<g transform="translate(428.900,739.400) scale(1.0102,1.0102) translate(-433.000,-738.000)"><text transform="translate(522.1999999999999,748) rotate(-45)" font-family="Liberation Sans" font-size="23" text-anchor="end" fill="#000" font-weight="bold" stroke="#000" stroke-width="0.5">SKMEL-24</text></g>
<g transform="translate(2.900,441.400) scale(0.9913,0.9913) translate(-2.000,-441.000)"><text transform="translate(19.6,556) rotate(-90)" font-family="Liberation Sans" font-size="23" text-anchor="middle" fill="#000" font-weight="bold" stroke="#000" stroke-width="0.5">Time constant (mins)</text></g>
<g transform="translate(495.400,408.800) scale(0.9737,0.9737) translate(-495.000,-408.000)"><text transform="translate(494.5,427.3)" font-family="Liberation Sans" font-size="26" text-anchor="start" fill="#000" font-weight="bold" stroke="#000" stroke-width="0.5">d<tspan font-style="italic">I</tspan></text></g>
<g transform="translate(495.400,439.800) scale(1.0050,1.0050) translate(-495.000,-441.000)"><text transform="translate(494.5,459.7)" font-family="Liberation Sans" font-size="26" text-anchor="start" fill="#000" font-weight="bold" stroke="#000" stroke-width="0.5">dip shift</text></g>
</svg>
</body></html>
